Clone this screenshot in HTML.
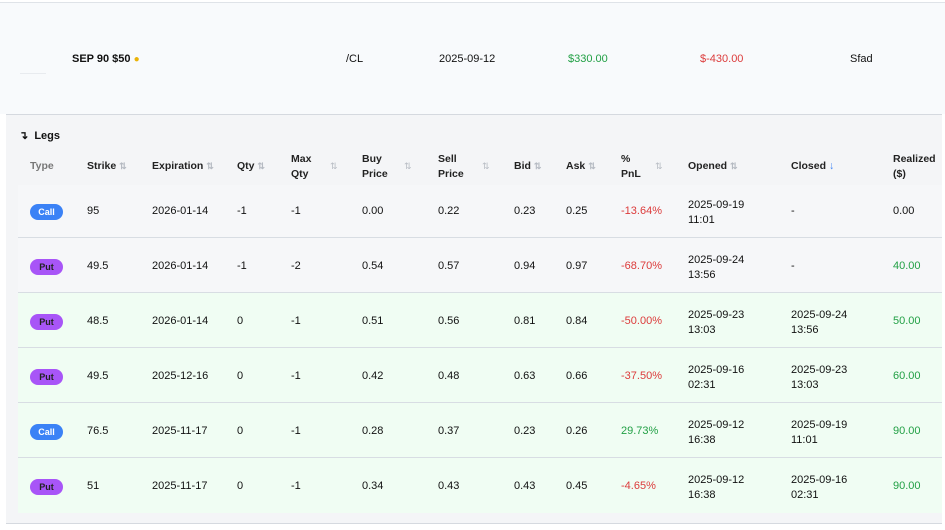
<!DOCTYPE html>
<html><head><meta charset="utf-8"><style>
*{margin:0;padding:0;box-sizing:border-box}
body{width:945px;height:530px;background:#fff;font-family:"Liberation Sans",Arial,sans-serif;font-size:11px;color:#111;position:relative;overflow:hidden}
.a{position:absolute;white-space:nowrap;margin-top:1px}
.top{position:absolute;left:0;top:2px;width:945px;height:112px;background:#f8fafc;border-top:1px solid #dfe3e8}
.legs{position:absolute;left:6px;top:114px;width:936px;height:410px;background:#f4f5f7;border-top:1px solid #d5d9df;border-bottom:1px solid #d5d9df}
.row{position:absolute;left:18px;width:924px;border-bottom:1px solid #d8dde3}
.h{font-weight:600;color:#222;line-height:15px;font-size:10.5px}
.s{color:#b5bac2;font-size:9px}
.g{color:#22a045}.r{color:#dc3b3b}
.b{position:absolute;left:30px;width:33px;height:16px;border-radius:8px;font-size:9px;text-align:center;line-height:16px;font-weight:600;margin-top:1px}
.call{background:#3b82f6;color:#fff}.put{background:#a855f7;color:#222}
</style></head><body>
<div class="top"></div>
<div class="a" style="left:20px;top:72px;width:26px;height:1px;background:#e8ebef"></div>
<div class="a" style="left:72px;top:52px;font-weight:600">SEP 90 $50 <span style="color:#eab308;font-size:10px">●</span></div>
<div class="a" style="left:346px;top:52px">/CL</div>
<div class="a" style="left:439px;top:52px">2025-09-12</div>
<div class="a g" style="left:568px;top:52px">$330.00</div>
<div class="a r" style="left:700px;top:52px">$-430.00</div>
<div class="a" style="left:850px;top:52px">Sfad</div>
<div class="legs"></div>
<div class="a" style="left:19px;top:128px;font-weight:600">↴ &nbsp;Legs</div>
<div class="row" style="top:185px;height:53px;background:#f6f7f9"></div>
<div class="row" style="top:238px;height:55px;background:#f6f7f9"></div>
<div class="row" style="top:293px;height:55px;background:#f0fdf3"></div>
<div class="row" style="top:348px;height:55px;background:#f0fdf3"></div>
<div class="row" style="top:403px;height:55px;background:#f0fdf3"></div>
<div class="row" style="top:458px;height:55px;background:#f0fdf3;border-bottom:none"></div>
<div class="a h" style="left:30px;top:158px;color:#777">Type</div>
<div class="a h" style="left:87px;top:158px">Strike <span class="s">⇅</span></div>
<div class="a h" style="left:152px;top:158px">Expiration <span class="s">⇅</span></div>
<div class="a h" style="left:237px;top:158px">Qty <span class="s">⇅</span></div>
<div class="a h" style="left:291px;top:151px">Max<br>Qty</div><div class="a s" style="left:330px;top:160px">⇅</div>
<div class="a h" style="left:362px;top:151px">Buy<br>Price</div><div class="a s" style="left:404px;top:160px">⇅</div>
<div class="a h" style="left:438px;top:151px">Sell<br>Price</div><div class="a s" style="left:482px;top:160px">⇅</div>
<div class="a h" style="left:514px;top:158px">Bid <span class="s">⇅</span></div>
<div class="a h" style="left:566px;top:158px">Ask <span class="s">⇅</span></div>
<div class="a h" style="left:621px;top:151px">%<br>PnL</div><div class="a s" style="left:655px;top:160px">⇅</div>
<div class="a h" style="left:688px;top:158px">Opened <span class="s">⇅</span></div>
<div class="a h" style="left:791px;top:158px">Closed <span style="color:#3b82f6">↓</span></div>
<div class="a h" style="left:893px;top:151px">Realized<br>($)</div>

<div class="b call" style="top:203px">Call</div>
<div class="a" style="left:87px;top:204px">95</div><div class="a" style="left:152px;top:204px">2026-01-14</div><div class="a" style="left:237px;top:204px">-1</div><div class="a" style="left:291px;top:204px">-1</div><div class="a" style="left:362px;top:204px">0.00</div><div class="a" style="left:438px;top:204px">0.22</div><div class="a" style="left:514px;top:204px">0.23</div><div class="a" style="left:566px;top:204px">0.25</div><div class="a r" style="left:621px;top:204px">-13.64%</div><div class="a" style="left:688px;top:197px;line-height:15px">2025-09-19<br>11:01</div><div class="a" style="left:791px;top:204px">-</div><div class="a" style="left:893px;top:204px">0.00</div>

<div class="b put" style="top:258px">Put</div>
<div class="a" style="left:87px;top:259px">49.5</div><div class="a" style="left:152px;top:259px">2026-01-14</div><div class="a" style="left:237px;top:259px">-1</div><div class="a" style="left:291px;top:259px">-2</div><div class="a" style="left:362px;top:259px">0.54</div><div class="a" style="left:438px;top:259px">0.57</div><div class="a" style="left:514px;top:259px">0.94</div><div class="a" style="left:566px;top:259px">0.97</div><div class="a r" style="left:621px;top:259px">-68.70%</div><div class="a" style="left:688px;top:252px;line-height:15px">2025-09-24<br>13:56</div><div class="a" style="left:791px;top:259px">-</div><div class="a g" style="left:893px;top:259px">40.00</div>

<div class="b put" style="top:313px">Put</div>
<div class="a" style="left:87px;top:314px">48.5</div><div class="a" style="left:152px;top:314px">2026-01-14</div><div class="a" style="left:237px;top:314px">0</div><div class="a" style="left:291px;top:314px">-1</div><div class="a" style="left:362px;top:314px">0.51</div><div class="a" style="left:438px;top:314px">0.56</div><div class="a" style="left:514px;top:314px">0.81</div><div class="a" style="left:566px;top:314px">0.84</div><div class="a r" style="left:621px;top:314px">-50.00%</div><div class="a" style="left:688px;top:307px;line-height:15px">2025-09-23<br>13:03</div><div class="a" style="left:791px;top:307px;line-height:15px">2025-09-24<br>13:56</div><div class="a g" style="left:893px;top:314px">50.00</div>

<div class="b put" style="top:368px">Put</div>
<div class="a" style="left:87px;top:369px">49.5</div><div class="a" style="left:152px;top:369px">2025-12-16</div><div class="a" style="left:237px;top:369px">0</div><div class="a" style="left:291px;top:369px">-1</div><div class="a" style="left:362px;top:369px">0.42</div><div class="a" style="left:438px;top:369px">0.48</div><div class="a" style="left:514px;top:369px">0.63</div><div class="a" style="left:566px;top:369px">0.66</div><div class="a r" style="left:621px;top:369px">-37.50%</div><div class="a" style="left:688px;top:362px;line-height:15px">2025-09-16<br>02:31</div><div class="a" style="left:791px;top:362px;line-height:15px">2025-09-23<br>13:03</div><div class="a g" style="left:893px;top:369px">60.00</div>

<div class="b call" style="top:423px">Call</div>
<div class="a" style="left:87px;top:424px">76.5</div><div class="a" style="left:152px;top:424px">2025-11-17</div><div class="a" style="left:237px;top:424px">0</div><div class="a" style="left:291px;top:424px">-1</div><div class="a" style="left:362px;top:424px">0.28</div><div class="a" style="left:438px;top:424px">0.37</div><div class="a" style="left:514px;top:424px">0.23</div><div class="a" style="left:566px;top:424px">0.26</div><div class="a g" style="left:621px;top:424px">29.73%</div><div class="a" style="left:688px;top:417px;line-height:15px">2025-09-12<br>16:38</div><div class="a" style="left:791px;top:417px;line-height:15px">2025-09-19<br>11:01</div><div class="a g" style="left:893px;top:424px">90.00</div>

<div class="b put" style="top:478px">Put</div>
<div class="a" style="left:87px;top:479px">51</div><div class="a" style="left:152px;top:479px">2025-11-17</div><div class="a" style="left:237px;top:479px">0</div><div class="a" style="left:291px;top:479px">-1</div><div class="a" style="left:362px;top:479px">0.34</div><div class="a" style="left:438px;top:479px">0.43</div><div class="a" style="left:514px;top:479px">0.43</div><div class="a" style="left:566px;top:479px">0.45</div><div class="a r" style="left:621px;top:479px">-4.65%</div><div class="a" style="left:688px;top:472px;line-height:15px">2025-09-12<br>16:38</div><div class="a" style="left:791px;top:472px;line-height:15px">2025-09-16<br>02:31</div><div class="a g" style="left:893px;top:479px">90.00</div>
</body></html>
